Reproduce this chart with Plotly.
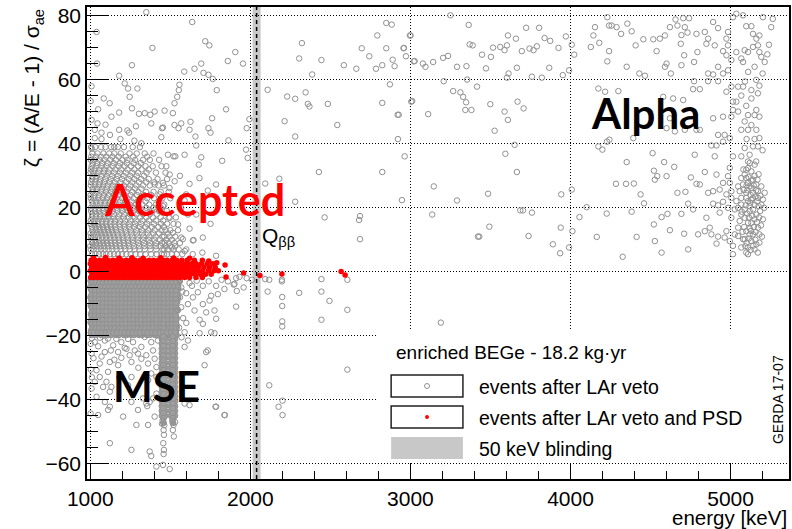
import plotly.graph_objects as go

# ---------------- data ----------------
# scattered gray events (energy keV, zeta) by region
upper_left = [
    (1350, 81.2), (1637, 78.1), (1039, 75.0), (1718, 72.1), (1744, 70.8), (1388, 70.0), (1906, 68.7),
    (1042, 65.1), (1260, 64.6), (1693, 65.1), (1859, 65.9), (1954, 65.1), (1651, 63.5), (1587, 62.6),
    (1707, 62.2), (1738, 61.6), (1765, 60.3), (1180, 61.3), (1215, 58.9), (1557, 58.5), (1236, 57.3),
    (1294, 57.3), (1790, 56.8), (1553, 56.8), (1543, 54.7), (1246, 54.7), (1084, 54.2), (1121, 52.7),
    (1002, 53.4), (1526, 52.7), (1049, 50.8), (1260, 51.1), (1180, 49.8), (1132, 48.5), (1304, 49.4),
    (1340, 49.6), (1375, 49.1), (1402, 50.1), (1464, 50.4), (1516, 49.6), (1848, 50.8), (1045, 46.4),
    (1381, 46.4), (1526, 45.9), (1568, 46.4), (1626, 46.9), (1761, 48.0), (1028, 44.4), (1070, 43.5),
    (1180, 44.4), (1232, 44.2), (1448, 44.9), (1551, 44.9), (1620, 44.4), (1738, 44.9), (1751, 43.5),
    (1977, 44.9), (1994, 47.7), (1028, 41.8), (1070, 41.5), (1123, 42.8), (1188, 41.5), (1242, 43.5),
    (1319, 40.2), (1444, 42.1), (1657, 42.3), (1863, 41.1), (1454, 45.1), (1662, 39.5), (1973, 38.2),
    (1983, 35.6), (1824, 34.7), (1693, 35.8), (1678, 33.5), (1589, 36.6), (1520, 36.1), (1008, 58.0),
    (1010, 38.5), (1150, 39.0), (1275, 41.0), (1095, 46.0), (1285, 45.5), (1008, 47.5),
]
mid_positive = [
    (1531, 36.1), (1786, 27.3), (1734, 25.4), (1589, 22.3), (1610, 17.9), (1516, 12.2), (1568, 10.7),
    (1641, 9.8), (1703, 10.7), (1786, 5.0), (1510, 7.6), (1548, 14.8), (1496, 16.9), (1454, 20.5),
    (1433, 24.2), (1402, 27.3), (1496, 30.4), (1527, 28.3), (1475, 33.0), (1485, 36.6), (1454, 27.8),
    (1495, 26.2), (1568, 20.0), (1599, 24.2), (1662, 17.9), (1682, 29.3), (1751, 15.0), (1645, 9.9),
    (1578, 10.2), (1590, 6.5), (1620, 13.5), (1700, 6.0), (1640, 5.5), (1560, 30.0), (1620, 27.5),
]
# positive cloud 1000-1600 keV: zeta rows and the energies seen on each
cloud_z = [39, 37, 35, 33, 31, 29, 27, 25, 23, 21, 19, 17, 15, 13, 11, 9, 7, 5.5]
cloud_e = [
    [1005, 1030, 1068, 1095, 1130, 1172, 1210, 1265, 1310],
    [1012, 1045, 1082, 1118, 1150, 1190, 1245, 1290, 1340, 1395],
    [1003, 1025, 1058, 1090, 1125, 1160, 1200, 1232, 1280, 1330, 1372, 1430],
    [1008, 1038, 1070, 1102, 1140, 1178, 1215, 1255, 1300, 1345, 1390, 1445],
    [1002, 1020, 1050, 1085, 1112, 1148, 1185, 1222, 1262, 1298, 1352, 1410, 1470],
    [1010, 1035, 1062, 1095, 1128, 1165, 1198, 1240, 1275, 1318, 1365, 1420, 1480],
    [1004, 1028, 1055, 1080, 1108, 1140, 1172, 1210, 1250, 1288, 1330, 1372, 1425, 1460],
    [1012, 1040, 1068, 1098, 1130, 1158, 1192, 1228, 1262, 1300, 1348, 1395, 1440, 1490],
    [1003, 1025, 1050, 1078, 1105, 1135, 1165, 1198, 1232, 1270, 1312, 1355, 1398, 1450, 1500],
    [1015, 1040, 1062, 1090, 1120, 1150, 1180, 1215, 1248, 1285, 1325, 1368, 1410, 1462],
    [1005, 1030, 1055, 1082, 1110, 1140, 1170, 1200, 1235, 1270, 1305, 1345, 1385, 1430, 1478],
    [1010, 1035, 1060, 1088, 1115, 1145, 1175, 1208, 1240, 1278, 1312, 1350, 1392, 1440, 1490, 1535],
    [1002, 1024, 1048, 1072, 1098, 1125, 1152, 1182, 1212, 1245, 1280, 1318, 1355, 1398, 1442, 1480, 1520],
    [1014, 1038, 1060, 1085, 1110, 1136, 1162, 1190, 1220, 1252, 1288, 1322, 1362, 1402, 1445, 1470, 1500, 1548],
    [1005, 1028, 1050, 1074, 1098, 1122, 1148, 1175, 1202, 1230, 1262, 1295, 1330, 1368, 1408, 1450, 1462, 1495, 1530],
    [1012, 1035, 1058, 1082, 1105, 1130, 1156, 1182, 1210, 1238, 1268, 1300, 1335, 1372, 1410, 1448, 1465, 1490, 1525, 1560],
    [1003, 1022, 1045, 1068, 1090, 1114, 1138, 1164, 1190, 1218, 1246, 1276, 1308, 1340, 1375, 1412, 1450, 1462, 1485, 1520, 1552, 1600],
    [1010, 1032, 1055, 1078, 1100, 1124, 1148, 1172, 1198, 1225, 1252, 1282, 1312, 1345, 1380, 1415, 1445, 1460, 1480, 1510, 1540, 1575],
]
cloud_z2 = [8, 10, 12, 14, 16, 18, 20, 22, 24, 26, 28, 30, 32, 34, 36]
cloud_e2 = [
    [1000, 1020, 1040, 1063, 1086, 1110, 1134, 1160, 1186, 1213, 1242, 1272, 1305, 1338, 1372, 1410, 1440, 1470, 1500, 1530],
    [1007, 1030, 1052, 1076, 1100, 1126, 1152, 1178, 1206, 1234, 1264, 1296, 1330, 1366, 1402, 1436, 1475, 1510],
    [1002, 1022, 1044, 1068, 1092, 1117, 1143, 1170, 1197, 1226, 1256, 1290, 1325, 1360, 1395, 1430, 1485],
    [1010, 1032, 1055, 1079, 1104, 1130, 1156, 1184, 1214, 1244, 1275, 1310, 1345, 1385, 1425, 1460],
    [1003, 1026, 1050, 1075, 1100, 1127, 1155, 1185, 1216, 1250, 1285, 1325, 1365, 1410, 1455],
    [1012, 1037, 1062, 1090, 1118, 1148, 1180, 1212, 1248, 1288, 1330, 1372, 1415],
    [1004, 1027, 1052, 1078, 1105, 1134, 1165, 1197, 1232, 1268, 1308, 1350, 1395, 1440],
    [1010, 1036, 1064, 1092, 1122, 1152, 1185, 1220, 1258, 1300, 1345],
    [1002, 1026, 1054, 1084, 1114, 1146, 1178, 1214, 1252, 1292, 1335, 1380],
    [1015, 1042, 1072, 1102, 1134, 1168, 1204, 1240, 1280, 1320],
    [1005, 1030, 1058, 1088, 1120, 1152, 1188, 1225, 1262, 1305, 1350, 1400],
    [1014, 1040, 1070, 1102, 1136, 1172, 1208, 1250, 1290, 1335],
    [1004, 1028, 1056, 1088, 1120, 1156, 1192, 1232, 1275, 1320, 1365],
    [1015, 1042, 1074, 1108, 1145, 1185, 1228, 1270, 1315],
    [1006, 1035, 1066, 1100, 1138, 1178, 1222, 1268, 1355],
]
qbb_region = [
    (2849, 77.8), (2883, 77.3), (2793, 73.9), (2997, 73.9), (2322, 71.5), (2696, 69.9), (2849, 69.9),
    (2957, 69.9), (2305, 66.7), (2444, 66.2), (2743, 67.4), (2889, 66.3), (2972, 67.4), (3026, 65.9),
    (2584, 64.6), (2662, 63.5), (2785, 63.5), (2824, 64.6), (2901, 64.3), (2386, 61.7), (2872, 58.6),
    (2108, 56.9), (2230, 54.8), (2280, 54.1), (2345, 56.1), (2359, 52.5), (2369, 51.7), (2484, 52.5),
    (2824, 52.8), (3005, 53.2), (2920, 49.1), (2927, 49.1), (2214, 47.1), (2543, 45.9), (2280, 42.3),
    (2922, 41.5), (2964, 36.1), (2428, 31.2), (2824, 31.2), (2093, 27.6), (2181, 29.1), (2280, 21.9),
    (2947, 22.4), (2464, 17.0), (2685, 17.4), (2679, 16.2), (2685, 10.2),
    (2093, -2.3), (2118, -2.5), (2197, -2.5), (2197, -3.0), (2444, -2.3), (2606, -2.5), (2108, -6.2),
    (2305, -6.6), (2444, -6.2), (2199, -7.9), (2199, -10.7), (2494, -9.1), (2606, -11.9), (2199, -15.5),
    (2199, -17.1), (2444, -15.0), (2118, -35.5), (2176, -42.2), (2201, -40.3), (2201, -44.8), (2606, -30.6),
    (3190, -15.9),
]
alpha_region = [
    (3250, 80.2), (3364, 77.2), (3001, 73.9), (3723, 76.3), (3804, 76.3), (3609, 73.9), (3659, 72.9),
    (3838, 73.1), (3873, 72.2), (3971, 73.6), (2959, 70.0), (3021, 65.8), (3078, 65.1), (3094, 64.1),
    (3142, 65.6), (3204, 66.9), (3235, 67.5), (3291, 64.1), (3350, 64.3), (3370, 71.1), (3389, 70.8),
    (3447, 67.9), (3472, 63.6), (3503, 67.2), (3516, 70.1), (3561, 70.3), (3588, 69.3), (3603, 70.8),
    (3665, 63.8), (3696, 69.0), (3744, 69.8), (3769, 69.3), (3790, 70.5), (3867, 63.8), (3925, 70.0),
    (3952, 61.5), (3991, 63.0), (4008, 71.0), (4023, 67.9), (3759, 61.0), (3821, 60.7), (3613, 62.0),
    (3603, 60.7), (3208, 59.6), (3354, 60.1), (3267, 56.5), (3312, 56.1), (3329, 54.7), (3348, 53.0),
    (3416, 57.9), (3343, 50.6), (3381, 50.6), (3111, 49.3), (3011, 53.4), (3499, 52.4), (3588, 50.1),
    (3609, 47.5), (3669, 53.2), (3707, 51.1), (3526, 44.1), (3651, 39.7), (3593, 36.9), (3665, 31.2),
    (3146, 26.7), (3485, 24.4), (3291, 22.3), (3942, 24.2), (4008, 25.7), (3136, 17.9), (3686, 19.2),
    (3703, 19.2), (3759, 18.5), (3493, 14.1), (3422, 11.0), (3430, 11.0), (3738, 11.2), (3939, 13.8),
    (3890, 8.6), (3935, 5.8), (3991, 7.6), (4012, 12.7), (4056, 17.1), (4101, 20.2), (4164, 10.9),
    (4226, 18.2), (4326, 4.7), (4382, 18.8), (4413, 10.9), (4438, 24.2), (4459, 21.4), (4284, 27.5),
    (4347, 27.5), (4396, 27.6), (4351, 34.3), (4228, 40.7), (4199, 38.2), (4174, 39.2), (4392, 41.8),
    (4243, 41.3), (4521, 31.6), (4527, 28.8), (4585, 34.3), (4542, 29.9), (4600, 29.9), (4648, 32.8),
    (4513, 37.1), (4521, 14.8), (4569, 17.1), (4606, 18.1), (4621, 13.0), (4527, 9.6), (4569, 6.0),
    (4668, 24.7), (4718, 25.0), (4735, 21.3), (4766, 19.5), (4693, 18.1), (4735, 7.0), (4710, 11.9),
    (4752, 29.5), (4787, 27.5), (4808, 27.3), (4839, 31.2), (4776, 36.6), (4860, 24.7), (4891, 25.2),
    (4932, 25.7), (4891, 21.3), (4922, 20.8), (4953, 21.9), (4849, 16.9), (4839, 12.7), (4870, 13.8),
    (4880, 11.7), (4922, 11.0), (4912, 8.8), (4963, 10.7), (4974, 12.7), (4995, 9.6), (4932, 18.5),
    (4797, 11.7), (4901, 36.1), (4880, 39.5), (4912, 39.5), (4953, 40.7), (4963, 42.8), (4995, 41.8),
    (4891, 48.0), (4953, 48.5), (5005, 48.5), (5015, 50.6), (4600, 44.9), (4652, 43.9), (4714, 44.4),
    (4787, 44.4), (4808, 44.4), (4621, 48.0), (4579, 54.7), (4641, 54.2), (4704, 53.7), (4174, 57.3),
    (4216, 56.3), (4299, 56.5), (4766, 57.1), (4808, 57.1), (4772, 59.6), (4860, 59.6), (4922, 59.6),
    (4891, 61.7), (4974, 56.3), (5005, 57.9), (5078, 57.9), (5036, 53.2), (5067, 55.1), (5098, 51.9),
    (5130, 54.2), (5171, 55.8), (5180, 58.2), (5109, 49.0), (5150, 49.0), (5180, 48.5), (5161, 50.6),
    (5088, 47.0), (5130, 45.9), (5067, 44.4), (5109, 44.4), (5161, 44.4), (5180, 41.8), (5140, 39.2),
    (5171, 39.2), (5088, 38.7), (5119, 36.6), (5067, 36.1), (5109, 34.5), (5150, 33.5), (5036, 68.7),
    (5088, 69.3), (5140, 70.3), (5161, 72.9), (5180, 73.9), (5140, 74.4), (5109, 68.7), (5180, 68.7),
    (5192, 67.2), (5171, 70.8), (5213, 65.6), (5150, 64.1), (5078, 65.6), (5067, 66.7), (5005, 66.2),
    (4974, 67.7), (4984, 70.8), (4974, 72.9), (4984, 75.0), (5015, 79.6), (5036, 80.7), (5078, 80.2),
    (5098, 76.8), (5130, 76.8), (5202, 79.6), (5264, 79.1), (5254, 76.5), (4922, 76.2), (4891, 78.1),
    (4839, 75.0), (4860, 72.9), (4849, 71.3), (4901, 70.8), (4953, 69.0), (4787, 74.4), (4731, 74.8),
    (4714, 76.5), (4668, 77.0), (4621, 76.5), (4656, 78.9), (4704, 79.3), (4741, 79.3), (4693, 74.0),
    (4590, 73.9), (4558, 72.9), (4517, 72.7), (4455, 72.7), (4407, 70.8), (4382, 75.2), (4355, 77.6),
    (4316, 74.4), (4288, 76.5), (4257, 77.0), (4230, 79.6), (4241, 77.0), (4153, 76.5), (4143, 73.9),
    (4180, 71.6), (4127, 70.3), (4241, 69.0), (4230, 65.8), (4351, 64.1), (4430, 62.0), (4465, 61.3),
    (4538, 69.0), (4600, 65.1), (4590, 64.1), (4627, 62.0), (4693, 64.6), (4772, 65.6), (4793, 68.7),
    (4710, 67.7), (4689, 71.3), (4860, 62.0), (4922, 64.1), (4953, 62.0), (4984, 63.0), (5015, 53.2),
    (5047, 57.9), (5130, 56.8), (5047, 50.1), (4922, 42.8), (5015, 36.1), (4995, 32.5), (4984, 29.9),
    (4953, 27.8), (4912, 30.4), (4995, 27.8), (5005, 23.1), (4984, 20.0), (5026, 19.5), (5067, 17.9),
    (5005, 16.9), (5015, 8.1), (5047, 13.8), (5047, 11.2), (5078, 10.2), (5057, 25.2), (5078, 27.3),
    (5036, 22.1), (5067, 21.0), (5005, 25.2), (4974, 24.2), (5240, 71.0), (5230, 68.0), (5110, 62.5),
    (5160, 60.0), (5200, 62.0), (5090, 59.5), (5150, 41.5), (5200, 38.0), (5100, 41.5),
]
# dense alpha cluster at 5.0-5.2 MeV
alpha_cluster = [
    (5088, 30.4), (5109, 27.8), (5130, 26.2), (5098, 23.1), (5130, 22.6), (5171, 25.2), (5119, 20.5),
    (5140, 19.5), (5088, 19.5), (5150, 16.4), (5109, 15.3), (5180, 11.7), (5119, 11.7), (5088, 10.2),
    (5150, 7.0), (5180, 9.1), (5109, 5.5), (5192, 21.0), (5202, 22.6), (5109, 32.4), (5067, 29.3),
    (5047, 26.7), (5067, 23.1), (5047, 20.0), (5057, 15.9), (5026, 11.7), (5067, 7.6), (5015, 5.5),
    (5098, 31.9), (5130, 31.4), (5098, 29.3), (5140, 28.8), (5161, 27.3), (5192, 26.7), (5213, 24.7),
    (5119, 26.7), (5098, 24.7), (5140, 24.7), (5171, 23.1), (5109, 22.1), (5150, 21.0), (5119, 19.0),
    (5161, 17.9), (5202, 16.4), (5088, 16.9), (5130, 15.3), (5171, 13.8), (5098, 12.7), (5140, 11.7),
    (5130, 9.6), (5161, 8.6), (5109, 7.6), (5098, 6.0), (5120, 34.0), (5150, 30.0), (5175, 30.5),
    (5160, 34.5), (5105, 25.5), (5125, 24.0), (5155, 23.5), (5185, 19.0), (5115, 17.0), (5145, 14.0),
    (5165, 15.5), (5120, 13.5), (5085, 14.0), (5100, 9.0), (5155, 10.0), (5190, 14.5), (5135, 17.5),
    (5175, 20.5), (5095, 20.8), (5145, 27.0), (5160, 25.5), (5100, 27.0), (5130, 28.5), (5080, 32.0),
    (5112, 29.6), (5124, 21.6), (5138, 23.0), (5166, 22.0), (5178, 17.0), (5104, 18.2), (5128, 12.8),
    (5156, 12.4), (5092, 8.0), (5142, 8.2), (5168, 28.8), (5186, 23.8), (5114, 10.4), (5196, 11.0),
    (5075, 12.5), (5082, 25.6), (5070, 18.8), (5125, 6.8), (5170, 6.0), (5210, 20.0),
]
mse_scatter = [
    (1049, -23.3), (1008, -25.6), (1091, -25.1), (1128, -24.6), (1174, -25.1), (1226, -24.1), (1246, -26.1),
    (1278, -24.6), (1319, -23.5), (1350, -26.1), (1392, -24.6), (1402, -27.2), (1319, -27.2), (1257, -28.2),
    (1174, -29.2), (1122, -28.2), (1059, -28.7), (1039, -30.8), (1003, -30.6), (1111, -31.3), (1059, -32.9),
    (1028, -34.4), (1101, -34.4), (1132, -36.0), (1008, -36.5), (1143, -23.0), (1194, -22.0), (1267, -22.0),
    (1381, -22.0), (1423, -21.5), (1340, -20.4), (1236, -21.0), (1163, -21.0), (1091, -21.5), (1028, -22.0),
    (1003, -22.5), (1194, -26.9), (1298, -25.6), (1361, -28.7), (1413, -29.8), (1381, -31.8), (1413, -32.9),
    (1361, -33.9), (1257, -32.9), (1236, -35.5), (1122, -37.5), (1039, -39.1), (1091, -40.7), (1257, -40.7),
    (1329, -39.6), (1350, -41.2), (1371, -40.7), (1392, -39.6), (1413, -38.1), (1356, -42.0), (1298, -43.2),
    (1402, -45.3), (1361, -47.9), (1288, -47.9), (1205, -45.3), (1122, -42.2), (1111, -43.2), (1049, -44.8),
    (1002, -44.3), (1122, -53.6), (1257, -55.7), (1371, -56.2), (1381, -57.6), (1413, -60.9), (1454, -60.4),
    (1496, -61.7), (1589, -41.2), (1620, -41.7), (1786, -42.2), (1838, -44.8), (1724, -25.1), (1734, -24.6),
    (1714, -29.2), (1610, -21.5), (1589, -23.5), (1683, -19.2), (1703, -16.3), (1755, -18.9), (1776, -19.2),
    (1683, -15.0), (1589, -18.9), (1568, -11.1), (1610, -10.1), (1641, -8.0), (1599, -6.7), (1672, -6.4),
    (1755, -7.5), (1797, -7.0), (1703, -10.1), (1745, -9.0), (1776, -12.1), (1786, -14.7), (1724, -12.7),
    (1651, -12.1), (1838, -5.4), (1786, -4.4), (1901, -3.8), (1911, -10.9), (1932, -1.6), (1703, -4.4),
    (1635, -4.4), (1568, -4.9), (1911, -2.0), (1977, -2.0), (1896, -4.0), (1915, -6.0), (2010, -2.5),
    (1958, -4.9), (1840, -44.8), (1782, -42.2), (1580, -14.5), (1600, -16.0), (1570, -20.5), (1560, -8.0),
    (1620, -3.5), (1665, -2.8), (1740, -3.0), (1820, -2.5), (1860, -3.0), (1020, -27.0), (1070, -26.5),
    (1150, -27.5), (1215, -23.8), (1300, -30.0), (1180, -33.0), (1080, -36.0), (1010, -33.0),
    (1560, -2.9), (1575, -6.2), (1555, -17.5), (1548, -12.0), (1010, -20.8), (1060, -20.6), (1110, -20.9),
]
# negative (MSE) blob 1000-1550 keV, saturated: zeta rows and energies on each
mse_z = [-2.8, -4.1, -5.4, -6.7, -8.0, -9.3, -10.6, -11.9, -13.2, -14.5, -15.8, -17.1, -18.4, -19.7]
mse_e = [
    [1003, 1027, 1049, 1075, 1098, 1121, 1147, 1170, 1195, 1217, 1243, 1265, 1291, 1313, 1339, 1361, 1387, 1409, 1435, 1457, 1483, 1505, 1531, 1556],
    [1014, 1038, 1061, 1087, 1109, 1135, 1157, 1183, 1205, 1231, 1253, 1279, 1301, 1327, 1349, 1375, 1397, 1423, 1445, 1466, 1495, 1517, 1543],
    [1005, 1025, 1051, 1073, 1099, 1123, 1145, 1171, 1193, 1219, 1241, 1267, 1289, 1315, 1337, 1363, 1385, 1411, 1433, 1459, 1481, 1507, 1529, 1548],
    [1015, 1037, 1063, 1085, 1111, 1133, 1159, 1181, 1207, 1229, 1255, 1277, 1303, 1325, 1351, 1373, 1399, 1421, 1447, 1465, 1493, 1519, 1541],
    [1002, 1028, 1050, 1076, 1097, 1124, 1146, 1172, 1194, 1218, 1242, 1268, 1290, 1316, 1338, 1362, 1386, 1410, 1434, 1458, 1482, 1508, 1532, 1548],
    [1013, 1039, 1062, 1086, 1110, 1136, 1158, 1182, 1206, 1230, 1254, 1280, 1302, 1326, 1350, 1374, 1398, 1422, 1446, 1467, 1494, 1518, 1542],
    [1004, 1026, 1052, 1074, 1100, 1122, 1148, 1170, 1196, 1216, 1244, 1266, 1292, 1314, 1340, 1360, 1388, 1408, 1436, 1456, 1484, 1506, 1530],
    [1016, 1040, 1060, 1088, 1108, 1134, 1160, 1184, 1204, 1232, 1252, 1278, 1304, 1328, 1348, 1376, 1396, 1424, 1444, 1464, 1496, 1516, 1540],
    [1006, 1029, 1048, 1077, 1096, 1125, 1144, 1173, 1192, 1221, 1240, 1269, 1288, 1317, 1336, 1365, 1384, 1413, 1432, 1460, 1480, 1509, 1528],
    [1012, 1036, 1064, 1084, 1112, 1132, 1161, 1180, 1209, 1228, 1257, 1276, 1305, 1324, 1353, 1372, 1401, 1420, 1449, 1468, 1492, 1520, 1538],
    [1003, 1024, 1053, 1072, 1101, 1120, 1149, 1168, 1197, 1215, 1245, 1264, 1293, 1312, 1341, 1359, 1389, 1407, 1437, 1455, 1485, 1504, 1533],
    [1017, 1041, 1059, 1089, 1107, 1137, 1155, 1185, 1203, 1233, 1251, 1281, 1299, 1329, 1347, 1377, 1395, 1425, 1443, 1462, 1497, 1515, 1539],
    [1007, 1030, 1054, 1078, 1102, 1126, 1150, 1174, 1198, 1222, 1246, 1270, 1294, 1318, 1342, 1366, 1390, 1414, 1438, 1459, 1486, 1510, 1534],
    [1011, 1035, 1065, 1083, 1113, 1131, 1162, 1179, 1210, 1227, 1258, 1275, 1306, 1323, 1354, 1371, 1402, 1419, 1450, 1466, 1498, 1521, 1537],
]
mse_z2 = [-3.45, -4.75, -6.05, -7.35, -8.65, -9.95, -11.25, -12.55, -13.85, -15.15, -16.45, -17.75, -19.05]
mse_e2 = [
    [1009, 1033, 1056, 1080, 1104, 1129, 1152, 1177, 1200, 1225, 1248, 1272, 1296, 1321, 1344, 1369, 1392, 1416, 1440, 1462, 1489, 1512, 1536],
    [1001, 1021, 1045, 1068, 1093, 1116, 1141, 1164, 1189, 1212, 1237, 1260, 1285, 1308, 1333, 1356, 1381, 1404, 1429, 1452, 1476, 1500, 1524, 1548],
    [1010, 1031, 1057, 1079, 1105, 1128, 1152, 1176, 1200, 1224, 1248, 1272, 1296, 1320, 1344, 1368, 1392, 1416, 1440, 1463, 1488, 1513, 1536],
    [1008, 1033, 1056, 1081, 1104, 1130, 1152, 1178, 1200, 1224, 1249, 1273, 1296, 1321, 1344, 1368, 1392, 1416, 1440, 1461, 1488, 1513, 1538],
    [1007, 1034, 1057, 1080, 1104, 1130, 1152, 1177, 1200, 1224, 1248, 1274, 1296, 1320, 1344, 1368, 1393, 1416, 1440, 1462, 1488, 1512, 1536],
    [1008, 1032, 1057, 1080, 1105, 1129, 1153, 1176, 1201, 1223, 1249, 1273, 1297, 1320, 1345, 1367, 1393, 1415, 1441, 1461, 1489, 1512, 1536],
    [1010, 1033, 1056, 1081, 1104, 1128, 1154, 1177, 1200, 1224, 1248, 1272, 1298, 1321, 1344, 1368, 1392, 1416, 1440, 1460, 1490, 1511, 1535],
    [1011, 1034, 1054, 1082, 1102, 1130, 1152, 1178, 1198, 1226, 1246, 1273, 1296, 1322, 1342, 1370, 1390, 1418, 1438, 1462, 1488, 1512, 1534],
    [1009, 1032, 1056, 1080, 1104, 1128, 1152, 1176, 1200, 1224, 1248, 1272, 1296, 1320, 1344, 1368, 1392, 1416, 1440, 1464, 1486, 1514, 1533],
    [1008, 1030, 1058, 1078, 1106, 1126, 1155, 1174, 1203, 1222, 1251, 1270, 1299, 1318, 1347, 1366, 1395, 1414, 1443, 1461, 1488, 1512, 1536],
    [1010, 1032, 1056, 1080, 1104, 1128, 1152, 1176, 1200, 1224, 1248, 1272, 1296, 1320, 1344, 1368, 1392, 1416, 1440, 1458, 1491, 1510, 1536],
    [1012, 1036, 1057, 1084, 1105, 1131, 1153, 1180, 1201, 1228, 1249, 1276, 1297, 1324, 1345, 1372, 1393, 1420, 1441, 1461, 1492, 1513, 1537],
    [1004, 1023, 1050, 1071, 1098, 1119, 1146, 1168, 1194, 1216, 1242, 1264, 1290, 1312, 1338, 1360, 1386, 1408, 1434, 1456, 1482, 1506, 1530],
]
# 1460 keV (K-40) and 1525 keV (K-42) columns extending to strong negative zeta (saturated)
col_z = [-21, -22.5, -24, -25.5, -27, -28.5, -30, -31.5, -33, -34.5, -36, -37.5, -39, -40.5, -42, -43.5, -45]
col_e = [1448, 1466, 1505, 1528]
col_z2 = [-20.3, -21.75, -23.25, -24.75, -26.25, -27.75, -29.25, -30.75, -32.25, -33.75, -35.25, -36.75,
          -38.25, -39.75, -41.25, -42.75, -44.25, -45.75, -47.2]
col_e2 = [1457, 1516]
col_tail = [
    (1452, -46.5), (1462, -48.0), (1458, -49.5), (1460, -51.0), (1456, -53.6), (1460, -55.7), (1458, -57.0),
    (1448, -47.5), (1512, -46.5), (1520, -47.9), (1516, -49.5), (1522, -51.5), (1530, -47.0),
]
# events after LAr veto and PSD (red)
red_z = [3.6, 2.5, 1.4, 0.3, -0.8, -1.8]
red_e = [
    [1005, 1030, 1058, 1085, 1110, 1140, 1168, 1195, 1225, 1252, 1280, 1310, 1338, 1368, 1395, 1425, 1455, 1480, 1510, 1540, 1572, 1605, 1650, 1700],
    [1000, 1018, 1040, 1062, 1082, 1102, 1125, 1148, 1170, 1190, 1212, 1235, 1258, 1280, 1302, 1325, 1348, 1370, 1392, 1415, 1438, 1460, 1482, 1505, 1528, 1552, 1578, 1605, 1632, 1662, 1695, 1730, 1765],
    [1008, 1028, 1050, 1072, 1092, 1114, 1136, 1158, 1180, 1202, 1224, 1246, 1268, 1290, 1313, 1336, 1358, 1380, 1403, 1426, 1448, 1470, 1493, 1516, 1540, 1565, 1590, 1618, 1645, 1675, 1710, 1745, 1780],
    [1000, 1020, 1042, 1064, 1085, 1106, 1128, 1150, 1172, 1194, 1216, 1238, 1260, 1282, 1305, 1328, 1350, 1372, 1395, 1418, 1440, 1462, 1485, 1508, 1532, 1556, 1582, 1610, 1640, 1670, 1702, 1738, 1772, 1800],
    [1010, 1030, 1052, 1074, 1096, 1118, 1140, 1162, 1184, 1206, 1228, 1250, 1272, 1295, 1318, 1340, 1362, 1385, 1408, 1430, 1452, 1475, 1498, 1522, 1546, 1572, 1598, 1626, 1655, 1688, 1720, 1755],
    [1002, 1024, 1046, 1068, 1090, 1112, 1134, 1156, 1178, 1200, 1222, 1244, 1266, 1288, 1310, 1333, 1356, 1378, 1400, 1423, 1446, 1468, 1490, 1514, 1538, 1562, 1590, 1620, 1660, 1700],
]
red_scatter = [
    (1020, 4.4), (1095, 4.5), (1180, 4.3), (1260, 4.4), (1330, 4.2), (1440, 4.4), (1520, 4.3), (1620, 4.2),
    (1740, 3.4), (1790, 2.8), (1842, 2.1), (1848, -1.6), (1958, -0.4), (2060, -1.2), (2197, -0.7),
    (2567, 0.1), (2592, -1.0),
]
qbb_window = (2014, 2064)
qbb_value = 2039
x_range = (979.4, 5365)
y_range = (-64.8, 82.8)
x_ticks = [1000, 2000, 3000, 4000, 5000]
y_ticks = [-60, -40, -20, 0, 20, 40, 60, 80]

# ---------------- assemble ----------------
gx, gy = [], []
for pts in (upper_left, mid_positive, qbb_region, alpha_region, alpha_cluster, mse_scatter, col_tail):
    gx += [p[0] for p in pts]
    gy += [p[1] for p in pts]
for zs, rows in ((cloud_z, cloud_e), (cloud_z2, cloud_e2)):
    for z, row in zip(zs, rows):
        gx += row
        gy += [z] * len(row)

# saturated region: open circles overlap so densely the area prints as solid gray
sx, sy = [], []
for zs, rows in ((mse_z, mse_e), (mse_z2, mse_e2)):
    for z, row in zip(zs, rows):
        sx += row
        sy += [z] * len(row)
for zs, es in ((col_z, col_e), (col_z2, col_e2)):
    for z in zs:
        sx += es
        sy += [z] * len(es)

rx, ry = [], []
for z, row in zip(red_z, red_e):
    rx += row
    ry += [z] * len(row)
rx += [p[0] for p in red_scatter]
ry += [p[1] for p in red_scatter]

GRAY = "rgb(145,145,145)"
fig = go.Figure()
fig.add_trace(go.Scatter(x=sx, y=sy, mode="markers", hoverinfo="skip",
                         marker=dict(symbol="circle", size=6, color="rgb(158,158,158)",
                                     line=dict(width=1, color=GRAY))))
fig.add_trace(go.Scatter(x=gx, y=gy, mode="markers", hoverinfo="skip",
                         marker=dict(symbol="circle-open", size=5.5, color=GRAY, line=dict(width=1, color=GRAY))))
fig.add_trace(go.Scatter(x=rx, y=ry, mode="markers", hoverinfo="skip",
                         marker=dict(symbol="circle", size=5.5, color="red", line=dict(width=0))))

# ---------------- layout ----------------
W, H = 792, 529
ML, MR, MT, MB = 87, 1, 7, 50
PW, PH = W - ML - MR, H - MT - MB


def fx(px):
    return (px - ML) / PW


def fy(py):
    return (H - MB - py) / PH


FONT = "Liberation Sans, Arial, sans-serif"
axis_common = dict(showline=True, linecolor="black", linewidth=1.5, mirror=True, ticks="inside",
                   tickcolor="black", tickwidth=1, showgrid=True, gridcolor="black", gridwidth=1,
                   griddash="1px,2px", zeroline=False, tickfont=dict(family=FONT, size=21, color="black"))

fig.update_layout(
    width=W, height=H, margin=dict(l=ML, r=MR, t=MT, b=MB), paper_bgcolor="white", plot_bgcolor="white",
    showlegend=False,
    xaxis=dict(range=list(x_range), tickvals=x_ticks, ticklen=16,
               minor=dict(ticks="inside", ticklen=8, dtick=200, tick0=1000, tickcolor="black", showgrid=False),
               **axis_common),
    yaxis=dict(range=list(y_range), tickvals=y_ticks, ticklen=22,
               minor=dict(ticks="inside", ticklen=11, dtick=5, tick0=0, tickcolor="black", showgrid=False),
               **axis_common),
)

shapes = [
    dict(type="rect", xref="x", yref="paper", x0=qbb_window[0], x1=qbb_window[1], y0=0, y1=1,
         fillcolor="#c8c8c8", line=dict(width=0), layer="below"),
    dict(type="line", xref="x", yref="paper", x0=qbb_value, x1=qbb_value, y0=0, y1=1,
         line=dict(color="black", width=1.5, dash="4px,3px"), layer="above"),
    dict(type="rect", xref="paper", yref="paper", x0=fx(378), x1=fx(790), y0=fy(462), y1=fy(330),
         fillcolor="white", line=dict(width=0), layer="above"),
    dict(type="rect", xref="paper", yref="paper", x0=fx(392), x1=fx(464), y0=fy(397), y1=fy(375),
         fillcolor="white", line=dict(color="#222", width=1.5), layer="above"),
    dict(type="rect", xref="paper", yref="paper", x0=fx(392), x1=fx(464), y0=fy(428), y1=fy(406),
         fillcolor="white", line=dict(color="#222", width=1.5), layer="above"),
    dict(type="rect", xref="paper", yref="paper", x0=fx(392), x1=fx(464), y0=fy(459), y1=fy(437),
         fillcolor="#c8c8c8", line=dict(width=0), layer="above"),
    dict(type="circle", xref="paper", yref="paper", x0=fx(425.5), x1=fx(430.5), y0=fy(388.5), y1=fy(383.5),
         fillcolor="white", line=dict(color=GRAY, width=1), layer="above"),
    dict(type="circle", xref="paper", yref="paper", x0=fx(426), x1=fx(430), y0=fy(419), y1=fy(415),
         fillcolor="red", line=dict(width=0), layer="above"),
]
fig.update_layout(shapes=shapes)


def ann(text, px, py, size, color="black", family=FONT, xanchor="center", angle=0, yanchor="middle"):
    return dict(text=text, xref="paper", yref="paper", x=fx(px), y=fy(py), showarrow=False,
                xanchor=xanchor, yanchor=yanchor, textangle=angle,
                font=dict(family=family, size=size, color=color))


BOLD = "Lato, Open Sans, sans-serif"
fig.update_layout(annotations=[
    ann("<b>Accepted</b>", 195, 199, 43, color="red", family=BOLD),
    ann("<b>Alpha</b>", 647, 113, 42, family=BOLD),
    ann("<b>MSE</b>", 157, 386, 42, family=BOLD),
    ann("Q<sub>ββ</sub>", 260, 237, 21, xanchor="left"),
    ann("enriched BEGe - 18.2 kg·yr", 395, 352, 19, xanchor="left"),
    ann("events after LAr veto", 478, 387, 19.5, xanchor="left"),
    ann("events after LAr veto and PSD", 478, 418, 19.5, xanchor="left"),
    ann("50 keV blinding", 478, 449, 19.5, xanchor="left"),
    ann("GERDA 17-07", 780, 400, 14, angle=-90),
    ann("energy [keV]", 791, 517, 20.5, xanchor="right"),
    ann("ζ = (A/E - 1) / σ<sub>ae</sub>", 33, 7, 21, angle=-90, yanchor="top"),
])

fig.write_html("out.html")
